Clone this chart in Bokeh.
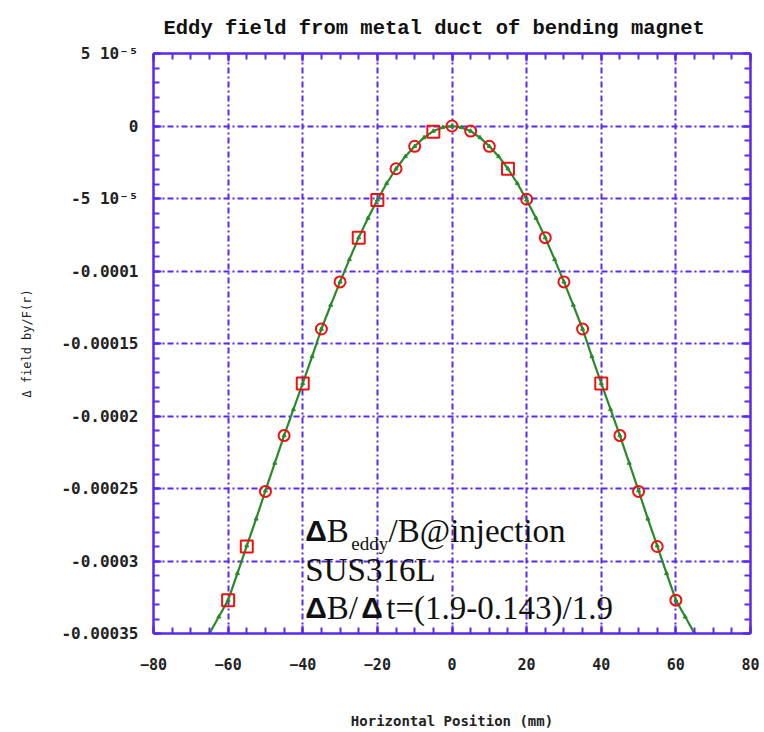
from bokeh.plotting import figure
from bokeh.models import (LinearAxis, SingleIntervalTicker, CustomJSTickFormatter,
                          Label, Range1d, ColumnDataSource)
from bokeh.embed import file_html
from bokeh.resources import INLINE

# ---------------- data ----------------
TITLE = "Eddy field from metal duct of bending magnet"
X_LABEL = "Horizontal Position (mm)"
Y_LABEL = "Δ field by/F(r)"

Y_TICKS = [0.00005, 0.0, -0.00005, -0.0001, -0.00015, -0.0002, -0.00025, -0.0003, -0.00035]
Y_TICK_LABELS = ["5 10⁻⁵", "0", "-5 10⁻⁵", "-0.0001", "-0.00015", "-0.0002",
                 "-0.00025", "-0.0003", "-0.00035"]

# red square markers
SQ_X = [-60, -55, -40, -25, -20, -5, 15, 40]
SQ_Y = [-3.27e-4, -2.90e-4, -1.775e-4, -7.7e-5, -5.1e-5, -4.0e-6, -2.95e-5, -1.775e-4]

# red circle markers
CI_X = [-50, -45, -35, -30, -15, -10, 0, 5, 10, 20, 25, 30, 35, 45, 50, 55, 60]
CI_Y = [-2.52e-4, -2.135e-4, -1.40e-4, -1.075e-4, -2.95e-5, -1.4e-5, 0.0, -3.5e-6,
        -1.4e-5, -5.05e-5, -7.7e-5, -1.075e-4, -1.40e-4, -2.135e-4, -2.52e-4,
        -2.90e-4, -3.27e-4]

# green calculated curve
LINE_X = [-67.5, -65, -62.5, -60, -57.5, -55, -52.5, -50, -47.5, -45, -42.5, -40, -37.5,
          -35, -32.5, -30, -27.5, -25, -22.5, -20, -17.5, -15, -12.5, -10, -7.5,
          -5, -2.5, 0, 2.5, 5, 7.5, 10, 12.5, 15, 17.5, 20, 22.5, 25, 27.5, 30,
          32.5, 35, 37.5, 40, 42.5, 45, 47.5, 50, 52.5, 55, 57.5, 60, 62.5, 65, 67.5]
LINE_Y = [-3.62e-4, -3.50e-4, -3.385e-4, -3.27e-4, -3.085e-4, -2.895e-4, -2.71e-4, -2.515e-4,
          -2.325e-4, -2.135e-4, -1.955e-4, -1.775e-4, -1.59e-4, -1.40e-4,
          -1.235e-4, -1.075e-4, -9.2e-5, -7.7e-5, -6.35e-5, -5.1e-5, -3.95e-5,
          -2.95e-5, -2.1e-5, -1.4e-5, -8.0e-6, -3.5e-6, -1.0e-6, 0.0, -1.0e-6,
          -3.5e-6, -8.0e-6, -1.4e-5, -2.1e-5, -2.95e-5, -3.95e-5, -5.1e-5,
          -6.35e-5, -7.7e-5, -9.2e-5, -1.075e-4, -1.235e-4, -1.40e-4, -1.59e-4,
          -1.775e-4, -1.955e-4, -2.135e-4, -2.325e-4, -2.515e-4, -2.71e-4,
          -2.895e-4, -3.085e-4, -3.27e-4, -3.385e-4, -3.50e-4, -3.62e-4]

# ---------------- style ----------------
BLUE = "#5a28f0"
RED = "#ee1111"
GREEN = "#2a8a2a"
TICK_FONT = "DejaVu Sans Mono"

p = figure(width=764, height=732, output_backend="svg", toolbar_location=None,
           x_range=Range1d(-80, 80), y_range=Range1d(-0.00035, 0.00005),
           min_border_left=153, min_border_right=14, min_border_top=53,
           min_border_bottom=99)
p.outline_line_color = None
p.background_fill_color = "white"
p.border_fill_color = "white"

p.title.text = TITLE
p.title.text_font = "Liberation Mono"
p.title.text_font_size = "20.5px"
p.title.text_font_style = "bold"
p.title.text_color = "#111111"
p.title.align = "left"
p.title.offset = 10
p.title.standoff = 27

xticker = SingleIntervalTicker(interval=20, num_minor_ticks=4)
yticker = SingleIntervalTicker(interval=0.00005, num_minor_ticks=5)
yfmt = CustomJSTickFormatter(args=dict(yt=Y_TICKS, yl=Y_TICK_LABELS), code="""
for (let i = 0; i < yt.length; i++) {
  if (Math.abs(tick - yt[i]) < 1e-9) return yl[i];
}
return "";
""")
blank = CustomJSTickFormatter(code="return '';")


def style_axis(ax):
    ax.axis_line_color = BLUE
    ax.axis_line_width = 2.5
    ax.major_tick_line_color = BLUE
    ax.major_tick_line_width = 2
    ax.major_tick_in = 8
    ax.major_tick_out = 0
    ax.minor_tick_line_color = BLUE
    ax.minor_tick_line_width = 2
    ax.minor_tick_in = 6
    ax.minor_tick_out = 0
    ax.major_label_text_font = TICK_FONT
    ax.major_label_text_font_size = "15px"
    ax.major_label_text_font_style = "bold"
    ax.major_label_text_color = "#222222"


xa = p.xaxis[0]
xa.ticker = xticker
style_axis(xa)
xa.major_label_standoff = 24
xa.axis_label = X_LABEL
xa.axis_label_text_font = TICK_FONT
xa.axis_label_text_font_size = "14px"
xa.axis_label_text_font_style = "bold"
xa.axis_label_text_color = "#222222"
xa.axis_label_standoff = 40

ya = p.yaxis[0]
ya.ticker = yticker
ya.formatter = yfmt
style_axis(ya)
ya.major_label_text_font_size = "16px"
ya.major_label_standoff = 15
ya.axis_label = Y_LABEL
ya.axis_label_text_font = TICK_FONT
ya.axis_label_text_font_size = "12px"
ya.axis_label_text_font_style = "normal"
ya.axis_label_text_color = "#222222"
ya.axis_label_standoff = 24

top = LinearAxis(ticker=xticker, formatter=blank)
style_axis(top)
top.major_label_standoff = 0
p.add_layout(top, "above")
right = LinearAxis(ticker=yticker, formatter=blank)
style_axis(right)
right.major_label_standoff = 0
p.add_layout(right, "right")

for g in (p.xgrid[0], p.ygrid[0]):
    g.grid_line_color = BLUE
    g.grid_line_width = 2
    g.grid_line_dash = "6 3 2 3"
p.xgrid[0].ticker = xticker
p.ygrid[0].ticker = yticker

# curve and markers
line_src = ColumnDataSource(dict(x=LINE_X, y=LINE_Y))
p.line("x", "y", source=line_src, line_color=GREEN, line_width=2.2)
p.scatter("x", "y", source=line_src, marker="triangle", size=4,
          fill_color=GREEN, line_color=GREEN)
p.scatter(SQ_X, SQ_Y, marker="square", size=12, fill_color=None,
          line_color=RED, line_width=2)
p.scatter(CI_X, CI_Y, marker="circle", size=11, fill_color=None,
          line_color=RED, line_width=2)

# annotation text (data coordinates)
SERIF = "Liberation Serif"
DCOL = "#111111"


def lab(x, y, t, font, size, style="normal"):
    p.add_layout(Label(x=x, y=y, text=t, text_font=font, text_font_size=size,
                       text_font_style=style, text_color=DCOL,
                       text_baseline="alphabetic", text_align="left"))


lab(-39.3, -2.79e-4, "Δ", "Liberation Sans", "30px", "bold")
lab(-33.6, -2.79e-4, "B", SERIF, "33px")
lab(-27.0, -2.88e-4, "eddy", SERIF, "19px")
lab(-17.0, -2.79e-4, "/B@injection", SERIF, "33px")
lab(-39.3, -3.059e-4, "SUS316L", SERIF, "33px")
lab(-39.3, -3.321e-4, "Δ", "Liberation Sans", "30px", "bold")
lab(-33.6, -3.321e-4, "B/", SERIF, "33px")
lab(-24.3, -3.321e-4, "Δ", "Liberation Sans", "30px", "bold")
lab(-17.6, -3.321e-4, "t=(1.9-0.143)/1.9", SERIF, "33px")

open("out.html", "w").write(file_html(p, INLINE))
